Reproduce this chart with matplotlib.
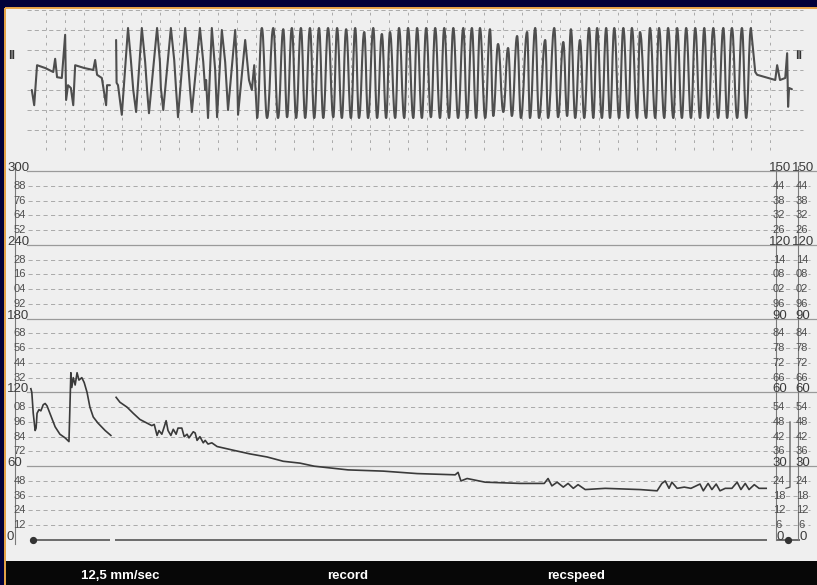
import numpy as np
import matplotlib
matplotlib.use("Agg")
import matplotlib.pyplot as plt
from matplotlib import transforms
from matplotlib.patches import Rectangle, PathPatch
from matplotlib.path import Path

plt.rcParams["lines.scale_dashes"] = False
plt.rcParams["font.family"] = ["Liberation Sans", "DejaVu Sans"]

# ---------------------------------------------------------------------------
# Lead II ECG (time in s, amplitude in mV)
# ---------------------------------------------------------------------------
sinus_t = [0.50, 0.55, 0.61, 0.78, 0.95, 0.99, 1.03, 1.13, 1.20, 1.22, 1.26,
           1.32, 1.37, 1.41, 1.60, 1.79, 1.83, 1.87, 1.97, 2.06, 2.08, 2.14]
sinus_mv = [-0.50, -0.88, 0.12, 0.05, -0.05, 0.28, -0.18, -0.20, 0.88, -0.75, -0.38,
            -0.45, -0.88, 0.12, 0.05, 0.00, 0.25, -0.12, -0.20, -0.88, -0.38, -0.38]

onset_t = [2.27, 2.28, 2.31, 2.39, 2.52, 2.58, 2.63, 2.69, 2.81, 2.88, 2.92, 2.96,
           3.13, 3.19, 3.21, 3.26, 3.42, 3.49, 3.53, 3.57, 3.72, 3.78, 3.82, 3.86,
           4.03, 4.10, 4.14, 4.16, 4.20, 4.28, 4.35, 4.39, 4.49, 4.56, 4.62, 4.77,
           4.81, 4.83, 4.98, 5.06, 5.12, 5.17, 5.23]
onset_mv = [0.75, -0.32, -0.38, -1.12, 1.05, 0.25, -0.50, -1.05, 1.05, 0.20, -0.50, -1.08,
            1.05, 0.20, -0.45, -1.00, 1.05, 0.25, -0.50, -1.18, 1.05, 0.20, -0.45, -1.05,
            1.05, 0.20, -0.50, -0.25, -1.20, 1.05, 0.00, -1.18, 1.00, 0.20, -1.00, 1.00,
            0.00, -1.12, 0.75, -0.25, -0.50, 0.12, -1.20]

vt_peak_t = [5.33, 5.57, 5.78, 5.96, 6.15, 6.34, 6.53, 6.72, 6.91, 7.10,
             7.29, 7.48, 7.67, 7.85, 8.02, 8.21, 8.40, 8.59, 8.78, 8.97,
             9.16, 9.35, 9.56, 9.74, 9.91, 10.12, 10.29, 10.50, 10.69, 10.90,
             11.07, 11.28, 11.47, 11.66, 11.82, 12.01, 12.20, 12.37, 12.56, 12.73,
             12.92, 13.10, 13.27, 13.48, 13.67, 13.86, 14.05, 14.24, 14.43, 14.62,
             14.81, 15.02, 15.20, 15.41, 15.60]
vt_peak_mv = [1.05, 1.05, 1.02, 1.05, 1.05, 1.05, 1.05, 1.05, 1.05, 1.02,
              1.05, 0.95, 1.05, 0.90, 0.95, 1.05, 1.05, 1.05, 1.05, 1.05,
              1.05, 1.05, 1.05, 1.05, 1.05, 1.02, 0.65, 0.55, 0.85, 0.95,
              1.05, 0.75, 1.05, 0.70, 1.02, 0.75, 1.05, 1.05, 1.05, 1.05,
              1.05, 1.05, 0.95, 1.05, 1.05, 1.05, 1.05, 1.05, 1.05, 1.05,
              1.05, 1.05, 1.05, 1.05, 1.05]
vt_trough_t = [5.44, 5.67, 5.86, 6.05, 6.24, 6.43, 6.62, 6.83, 7.01, 7.20,
               7.37, 7.56, 7.75, 7.94, 8.13, 8.32, 8.51, 8.69, 8.88, 9.07,
               9.26, 9.45, 9.64, 9.83, 10.02, 10.19, 10.40, 10.58, 10.77, 10.96,
               11.15, 11.34, 11.55, 11.74, 11.91, 12.10, 12.29, 12.47, 12.64, 12.83,
               13.02, 13.21, 13.40, 13.59, 13.78, 13.97, 14.15, 14.34, 14.53, 14.70,
               14.91, 15.10, 15.31, 15.50]
vt_trough_mv = [-1.20, -1.20, -1.18, -1.20, -1.20, -1.20, -1.20, -1.18, -1.20, -1.20,
                -1.20, -1.20, -1.20, -1.20, -1.20, -1.20, -1.20, -1.20, -1.18, -1.20,
                -1.20, -1.20, -1.20, -1.20, -1.20, -1.15, -1.05, -1.15, -1.20, -1.20,
                -1.20, -1.20, -1.18, -1.15, -1.20, -1.20, -1.20, -1.20, -1.20, -1.20,
                -1.20, -1.20, -1.20, -1.20, -1.20, -1.20, -1.20, -1.20, -1.20, -1.20,
                -1.20, -1.20, -1.20, -1.20]

post_t = [15.69, 15.73, 16.11, 16.15, 16.21, 16.32, 16.36, 16.38, 16.40, 16.46]
post_mv = [-0.05, -0.12, -0.25, 0.12, -0.25, -0.20, 0.42, -0.92, -0.45, -0.48]

# ---------------------------------------------------------------------------
# Pressure trend (time in s, mmHg on the 0-300 scale)
# ---------------------------------------------------------------------------
p1_t = [0.48, 0.50, 0.53, 0.57, 0.59, 0.61, 0.65, 0.69, 0.74, 0.78,
        0.82, 0.92, 0.99, 1.09, 1.20, 1.28, 1.32, 1.34, 1.37, 1.41,
        1.45, 1.49, 1.55, 1.60, 1.66, 1.72, 1.79, 1.89, 2.04, 2.16]
p1_val = [123, 120, 103, 89, 91, 103, 106, 105, 110, 111,
          109, 99, 92, 86, 83, 80, 136, 124, 132, 126,
          136, 130, 132, 128, 120, 108, 100, 95, 89, 85]

p2_t = [2.27, 2.35, 2.50, 2.63, 2.77, 2.92, 3.02, 3.07, 3.13, 3.17,
        3.23, 3.28, 3.32, 3.36, 3.42, 3.47, 3.53, 3.57, 3.65, 3.70,
        3.76, 3.80, 3.89, 3.93, 3.97, 4.03, 4.10, 4.14, 4.20, 4.28,
        4.39, 4.73, 5.08, 5.44, 5.78, 6.13, 6.43, 7.14, 7.88, 8.59,
        9.39, 9.45, 9.51, 9.64, 10.02, 10.75, 11.26, 11.34, 11.42, 11.53,
        11.66, 11.76, 11.87, 11.97, 12.12, 12.54, 13.27, 13.63, 13.73, 13.80,
        13.88, 13.94, 14.05, 14.20, 14.34, 14.53, 14.60, 14.70, 14.78, 14.87,
        14.95, 15.06, 15.20, 15.31, 15.39, 15.48, 15.56, 15.67, 15.77, 15.92]
p2_val = [116, 112, 108, 103, 98, 95, 93, 94, 85, 89,
          86, 92, 97, 89, 85, 90, 86, 91, 91, 84,
          86, 83, 88, 87, 81, 84, 79, 81, 78, 79,
          76, 73, 70, 67.5, 64, 62.5, 60, 57, 56, 54,
          53, 55, 48, 50, 47, 46, 46, 50, 44, 47,
          43, 46, 42, 45, 41, 42, 41, 40, 46, 48,
          42, 47, 42, 43, 42, 45.5, 40, 46, 41, 45.5,
          40, 42, 42, 47, 41, 46, 41, 45, 42, 42]

# recorder running (baseline drawn) and pen marks on the zero line
record_spans = [(0.53, 2.14), (2.25, 15.94), (16.13, 16.63)]
pen_marks_t = [0.53, 16.38]

# scale labels
left_major_vals = [0, 60, 120, 180, 240, 300]
left_major_text = ["0", "60", "120", "180", "240", "300"]
left_minor_vals = [12, 24, 36, 48, 72, 84, 96, 108, 132, 144,
                   156, 168, 192, 204, 216, 228, 252, 264, 276, 288]
left_minor_text = ["12", "24", "36", "48", "72", "84", "96", "08", "32", "44",
                   "56", "68", "92", "04", "16", "28", "52", "64", "76", "88"]
right_major_vals = [0, 30, 60, 90, 120, 150]
right_major_text = ["0", "30", "60", "90", "120", "150"]
right_minor_vals = [6, 12, 18, 24, 36, 42, 48, 54, 66, 72,
                    78, 84, 96, 102, 108, 114, 126, 132, 138, 144]
right_minor_text = ["6", "12", "18", "24", "36", "42", "48", "54", "66", "72",
                    "78", "84", "96", "02", "08", "14", "26", "32", "38", "44"]
marker_range = (21.5, 48)

footer_items = ["12,5 mm/sec", "record", "recspeed"]

# ---------------------------------------------------------------------------
W, H = 817, 585
NAVY = "#00003a"
ORANGE = "#e9a648"
PAPER = "#efefef"
GRID = "#a9a9a9"
SOLID = "#9a9a9a"
INK = "#4e4e4e"
LABEL = "#4f4f4f"

fig = plt.figure(figsize=(W / 100, H / 100), dpi=100)
fig.patch.set_facecolor(NAVY)

# frame axes in pixel units for paper, border and footer
bg = fig.add_axes([0, 0, 1, 1])
bg.set_xlim(0, W)
bg.set_ylim(H, 0)
bg.axis("off")
bg.add_patch(Rectangle((6, 8), W - 6, 553, facecolor=PAPER, edgecolor="none"))
bg.add_patch(Rectangle((6, 561), W - 6, H - 561, facecolor="#070707", edgecolor="none"))
bg.plot([5.5, 5.5], [7.5, H], color=ORANGE, lw=1.4, solid_capstyle="butt")
bg.plot([5.5, W], [7.5, 7.5], color=ORANGE, lw=1.4, solid_capstyle="butt")
for label, xc in zip(footer_items, [120, 348, 576]):
    bg.text(xc, 576, label, color="white", ha="center", va="center",
            fontsize=9.5, fontweight="bold")

# common time axis: 12.5 mm/s paper, 0.4 s per grid box
PX_PER_S = 47.625
T0_PX = 8
xlim = (-T0_PX / PX_PER_S, (W - T0_PX) / PX_PER_S)

# ---------------- ECG strip ----------------
ax_e = fig.add_axes([0, 0, 1, 1])
ax_e.patch.set_alpha(0)
ax_e.axis("off")
PX_PER_MV = 40
ECG_BASE_PX = 70
ax_e.set_xlim(*xlim)
ax_e.set_ylim(-(H - ECG_BASE_PX) / PX_PER_MV, ECG_BASE_PX / PX_PER_MV)

for mv in [1.5, 1.0, 0.5, 0.0, -0.5, -1.0, -1.5]:
    ax_e.axhline(mv, xmin=27 / W, xmax=803 / W, color=GRID, lw=0.7,
                 ls=(0, (3.0, 2.2)), zorder=1)
ax_e.vlines(np.arange(0.8, 16.01, 0.4), -2.0, 1.5, color=GRID, lw=0.7,
            linestyles=[(0, (2.0, 3.4))], zorder=1)

trace_style = dict(color=INK, lw=1.5, solid_joinstyle="round", solid_capstyle="round")

# sinus beats and irregular onset as a plain polyline
ax_e.plot(sinus_t, sinus_mv, zorder=3, **trace_style)
ax_e.plot(onset_t, onset_mv, zorder=3, **trace_style)

# sustained run: alternating peaks/troughs joined by rounded pen strokes
vt_t, vt_mv = [onset_t[-1]], [onset_mv[-1]]
for i, (pt, pv) in enumerate(zip(vt_peak_t, vt_peak_mv)):
    vt_t.append(pt)
    vt_mv.append(pv)
    if i < len(vt_trough_t):
        vt_t.append(vt_trough_t[i])
        vt_mv.append(vt_trough_mv[i])

verts = [(vt_t[0], vt_mv[0])]
codes = [Path.MOVETO]
ROUND = 0.42
for k in range(1, len(vt_t)):
    t_a, v_a = vt_t[k - 1], vt_mv[k - 1]
    t_b, v_b = vt_t[k], vt_mv[k]
    dt = t_b - t_a
    verts += [(t_a + ROUND * dt, v_a), (t_b - ROUND * dt, v_b), (t_b, v_b)]
    codes += [Path.CURVE4] * 3
ax_e.add_patch(PathPatch(Path(verts, codes), fill=False, edgecolor=INK,
                         lw=1.5, joinstyle="round", zorder=3))

ax_e.plot([vt_t[-1]] + post_t, [vt_mv[-1]] + post_mv, zorder=3, **trace_style)

bg.text(12, 56, "II", color="#333333", ha="center", va="center",
        fontsize=9, fontweight="bold")
bg.text(799, 56, "II", color="#333333", ha="center", va="center",
        fontsize=9, fontweight="bold")

# ---------------- pressure trend ----------------
ax_p = fig.add_axes([0, 0, 1, 1])
ax_p.patch.set_alpha(0)
ax_p.axis("off")
PX_PER_UNIT = (540 - 171) / 300
ZERO_PX = 540
ax_p.set_xlim(*xlim)
ax_p.set_ylim(-(H - ZERO_PX) / PX_PER_UNIT, ZERO_PX / PX_PER_UNIT)

ax_r = ax_p.twinx()
ax_r.axis("off")
lo, hi = ax_p.get_ylim()
ax_r.set_ylim(lo / 2, hi / 2)

for v in left_major_vals[1:]:
    ax_p.axhline(v, xmin=27 / W, xmax=1, color=SOLID, lw=0.9, zorder=1)
for v in left_minor_vals:
    ax_p.axhline(v, xmin=28 / W, xmax=810 / W, color=GRID, lw=0.7,
                 ls=(0, (3.0, 2.4)), zorder=1)
for a, b in record_spans:
    ax_p.hlines(0, a, b, color="#555555", lw=1.2, zorder=2)
ax_p.plot(pen_marks_t, [0, 0], "o", ms=4.2, color="#333333", zorder=4)

tl = transforms.blended_transform_factory(bg.transData, ax_p.transData)
tr = transforms.blended_transform_factory(bg.transData, ax_r.transData)

# label columns
ax_p.plot([15, 15], [-3, 306], transform=tl, color="#7a7a7a", lw=0.8, zorder=2)
ax_r.plot([776, 776], [0, 152], transform=tr, color="#7a7a7a", lw=0.8, zorder=2)
ax_r.plot([798, 798], [0, 152], transform=tr, color="#7a7a7a", lw=0.8, zorder=2)

for v, s in zip(left_minor_vals, left_minor_text):
    ax_p.text(26, v, s, transform=tl, ha="right", va="center",
              fontsize=8, color=LABEL, zorder=5)
for v, s in zip(left_major_vals, left_major_text):
    ax_p.text(7, v, s, transform=tl, ha="left", va="baseline",
              fontsize=9.5, color="#3c3c3c", zorder=5)
for col_x in (779, 802):
    for v, s in zip(right_minor_vals, right_minor_text):
        ax_r.text(col_x, v, s, transform=tr, ha="center", va="center",
                  fontsize=8, color=LABEL, zorder=5)
    for v, s in zip(right_major_vals, right_major_text):
        ax_r.text(col_x + 1, v, s, transform=tr, ha="center", va="baseline",
                  fontsize=9.5, color="#3c3c3c", zorder=5)

ax_r.plot([786, 790, 790], [marker_range[0] - 0.5, marker_range[0], marker_range[1]],
          transform=tr, color="#555555", lw=0.9, zorder=3)

ax_p.plot(p1_t, p1_val, color="#3a3a3a", lw=1.2, solid_joinstyle="round", zorder=3)
ax_p.plot(p2_t, p2_val, color="#3a3a3a", lw=1.2, solid_joinstyle="round", zorder=3)

fig.savefig("out.png", dpi=100, facecolor=fig.get_facecolor())
